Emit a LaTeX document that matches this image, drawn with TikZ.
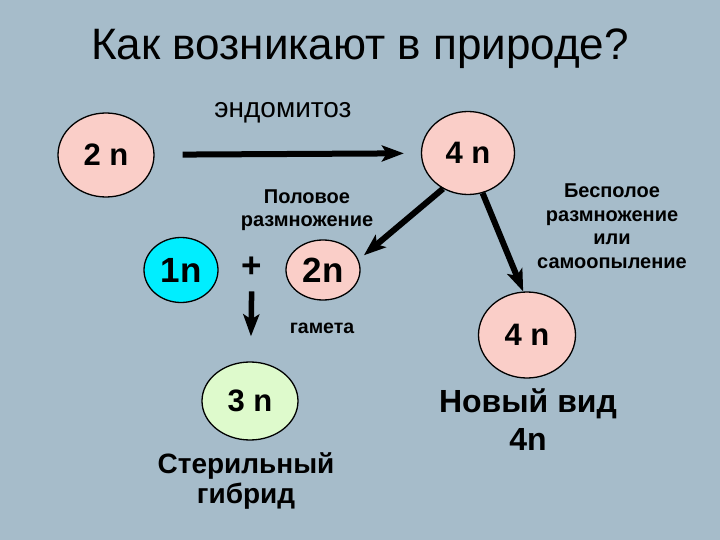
\documentclass[tikz,border=0pt]{standalone}
\usepackage{fontspec}
\setmainfont{Liberation Sans}
\usetikzlibrary{arrows.meta, positioning, shapes.geometric}

\definecolor{bgblue}{RGB}{166,188,202}
\definecolor{cellpink}{RGB}{250,206,200}
\definecolor{cellcyan}{RGB}{0,238,255}
\definecolor{cellgreen}{RGB}{222,250,204}

\begin{document}
\begin{tikzpicture}[x=1pt, y=-1pt,
  cell/.style={ellipse, draw, line width=1.3pt, fill=cellpink, inner sep=0pt,
               minimum width=96pt, minimum height=84pt,
               font=\fontsize{31}{36}\selectfont\bfseries},
  smallcell/.style={cell, minimum width=74pt, minimum height=60pt,
                    font=\fontsize{35}{40}\selectfont\bfseries},
  lbl/.style={align=center, font=\fontsize{20}{23.5}\selectfont\bfseries},
  biglbl/.style={align=center, inner sep=0pt},
  arr/.style={-{Stealth[length=22pt, width=16pt, inset=5pt]}, line width=6pt}
]
  \fill[bgblue] (0,0) rectangle (720,540);
  \useasboundingbox (0,0) rectangle (720,540);

  \node[anchor=base] (title) at (360,60) {\fontsize{44}{50}\selectfont Как возникают в природе?};

  % cells
  \node[cell] (twoN) at (106,155) {2 n};
  \node[cell, minimum width=93pt, minimum height=83pt] (fourN) at (468,153) {4 n};
  \node[smallcell, fill=cellcyan, minimum height=65pt] (oneN) at (181,270) {1n};
  \node[smallcell] (gamete) at (323,270) {2n};
  \node[cell, fill=cellgreen, minimum height=78pt] (threeN) at (250,401) {3 n};
  \node[cell, minimum width=97pt, minimum height=86pt] (newN) at (527,335) {4 n};
  \node[font=\fontsize{35}{40}\selectfont\bfseries, inner sep=0pt] (plus) at (252,267) {+};

  % labels
  \node[anchor=base, font=\fontsize{28}{32}\selectfont] (endo) at (283,118) {эндомитоз};
  \node[lbl] (sexual) at (307,210) {Половое\\размножение};
  \node[lbl, anchor=base, font=\fontsize{19.5}{23}\selectfont\bfseries] (gam) at (322,333) {гамета};
  \node[lbl] (asexual) at (612,226) {Бесполое\\размножение\\или\\самоопыление};
  \node[biglbl, font=\fontsize{28}{30}\selectfont\bfseries] (sterile) at (246,481) {Стерильный\\гибрид};
  \node[biglbl, font=\fontsize{32}{38}\selectfont\bfseries] (species) at (528,420) {Новый вид\\4n};

  % arrows
  \draw[arr, shorten <=28pt, shorten >=17pt] (twoN) -- (fourN);
  \draw[arr, shorten >=7pt] (fourN.235) -- (gamete.16);
  \draw[arr] (fourN.-70) -- (newN.95);
  \draw[arr, line width=5.5pt, shorten <=14pt, shorten >=25pt] (plus) -- (threeN);
\end{tikzpicture}
\end{document}
